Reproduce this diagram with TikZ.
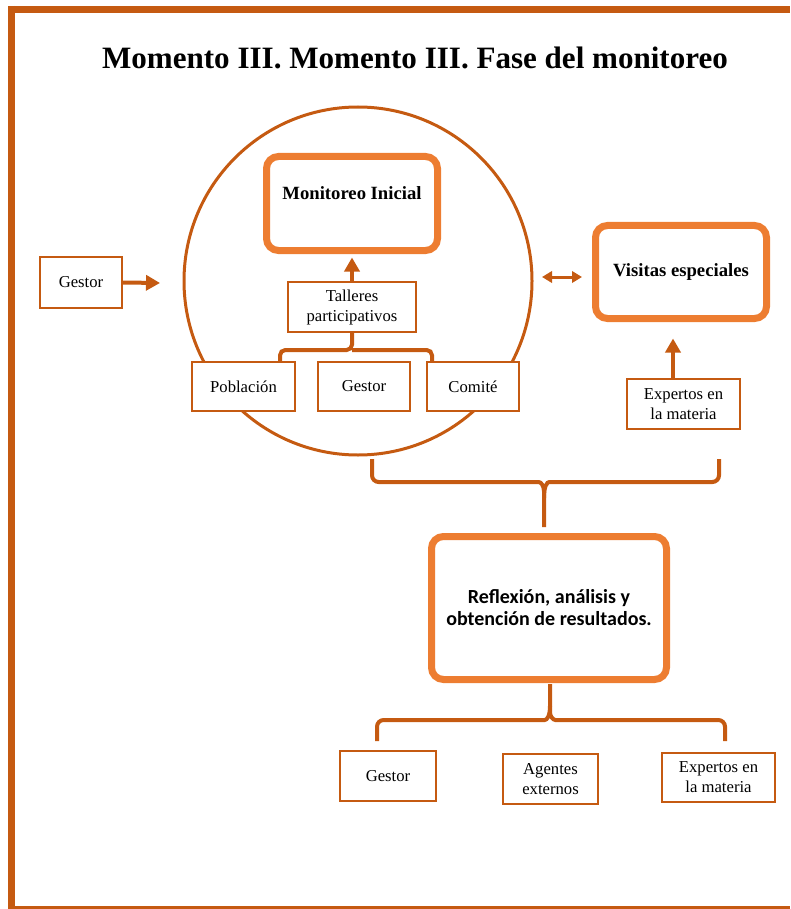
\documentclass[tikz,border=0pt]{standalone}
\usepackage{fontspec}
\setmainfont{Liberation Serif}
\newfontfamily\calibri{Carlito}
\usetikzlibrary{arrows.meta,calc}
\definecolor{dk}{HTML}{C55A11}
\definecolor{lt}{HTML}{ED7D31}
\begin{document}
\begin{tikzpicture}[x=0.75pt,y=-0.75pt,
 thinbox/.style={draw=dk, line width=1.5pt, fill=white, inner sep=0pt, align=center, font=\fontsize{12.5}{15}\selectfont},
 bigbox/.style={draw=lt, line width=5.25pt, fill=white, rounded corners=9pt, inner sep=0pt, align=center},
 bracket/.style={draw=dk, line width=3pt, rounded corners=5pt},
 arr/.style={draw=dk, line width=3pt, -{Triangle[length=10.5pt,width=11.25pt]}},
 darr/.style={draw=dk, line width=2.25pt, {Triangle[length=7.5pt,width=8.5pt]}-{Triangle[length=7.5pt,width=8.5pt]}},
]
\useasboundingbox (0,0) rectangle (790,909);
% frame
\draw[dk, line width=5.25pt] (8,9.5) -- (790,9.5);
\draw[dk, line width=5.25pt] (11.5,6) -- (11.5,912);
\draw[dk, line width=5.25pt] (8,909.5) -- (790,909.5);

\node[font=\bfseries\fontsize{23.3}{27}\selectfont] (title) at (415,58) {Momento III. Momento III. Fase del monitoreo};

% circle
\node[circle, draw=dk, line width=2.25pt, minimum size=261pt, inner sep=0pt] (circ) at (358,281) {};

% brackets (drawn before boxes)
\draw[bracket] (372,459) |- (532,482) .. controls (541,482) and (544,486) .. (544,498) -- (544,527);
\draw[bracket] (719,459) |- (556,482) .. controls (547,482) and (544,486) .. (544,498);

\draw[bracket] (550,684) -- (550,706) .. controls (550,716) and (553,720) .. (562,720) -| (725,741);
\draw[bracket] (550,706) .. controls (550,716) and (547,720) .. (538,720) -| (377,741);

% nodes
\node[bigbox, minimum width=128.25pt, minimum height=70.5pt, font=\bfseries\fontsize{14}{16}\selectfont, text height=10pt, text depth=16.6pt] (mon) at (352,203.5) {Monitoreo Inicial};
\node[thinbox, minimum width=96pt, minimum height=37.5pt] (tall) at (352,307) {Talleres\\participativos};

\draw[bracket, rounded corners=4pt] (tall.south) -- (352,350) -| (280,361);
\draw[bracket, rounded corners=4pt] (352,350) -| (432,361);

\node[thinbox, minimum width=77.25pt, minimum height=36.75pt] (pob) at (243.5,386.5) {Población};
\node[thinbox, minimum width=69pt, minimum height=36.75pt] (ges) at (364,386.5) {Gestor};
\node[thinbox, minimum width=69pt, minimum height=36.75pt] (com) at (473,386.5) {Comité};

\node[thinbox, minimum width=61.5pt, minimum height=38.25pt] (gl) at (81,282.5) {Gestor};

\node[bigbox, minimum width=128.25pt, minimum height=69.75pt, font=\bfseries\fontsize{14}{16}\selectfont] (vis) at (681,272) {Visitas especiales};
\node[thinbox, minimum width=84.75pt, minimum height=37.5pt] (exp1) at (683.5,404) {Expertos en\\la materia};

\node[bigbox, minimum width=176.25pt, minimum height=107.25pt, font=\calibri\bfseries\fontsize{15}{16.5}\selectfont] (ref) at (549,608) {Reflexión, análisis y\\obtención de resultados.};

\node[thinbox, minimum width=72pt, minimum height=37.5pt] (g2) at (388,776) {Gestor};
\node[thinbox, minimum width=71.25pt, minimum height=37.5pt] (ag) at (550.5,779) {Agentes\\externos};
\node[thinbox, minimum width=84.75pt, minimum height=36.75pt] (exp2) at (718.5,777.5) {Expertos en\\la materia};

% arrows
\coordinate (gtip) at (160,283);
\draw[arr] (gl.east) -- (gtip);
\draw[arr] (tall.north) -- ($(mon.south)+(0,3.5)$);
\draw[arr] ($(exp1.north)+(-10.5,0)$) -- ($(vis.south)+(-8,16.5)$);
\coordinate (da1) at (542,277);
\coordinate (da2) at (582,277);
\draw[darr] (da1) -- (da2);
\end{tikzpicture}
\end{document}
